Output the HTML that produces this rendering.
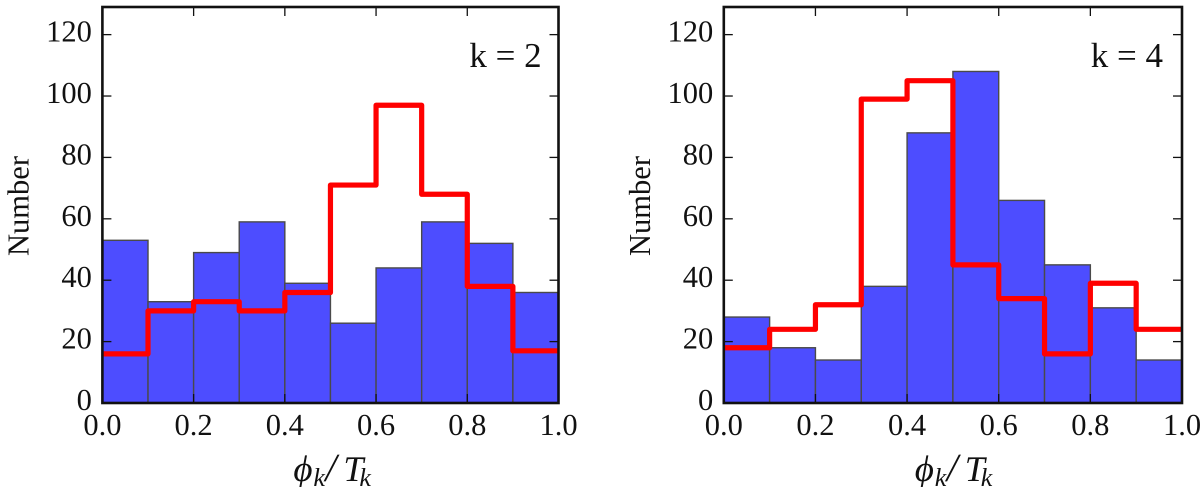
<!DOCTYPE html>
<html>
<head>
<meta charset="utf-8">
<style>
html,body{margin:0;padding:0;background:#fff;}
svg{display:block;}
text{font-family:"Liberation Serif",serif;fill:#111;text-rendering:geometricPrecision;}
</style>
</head>
<body>
<svg id="chart" xmlns="http://www.w3.org/2000/svg" width="1200" height="487" viewBox="0 0 1200 487"></svg>
<script>
const binEdges = [0, 0.1, 0.2, 0.3, 0.4, 0.5, 0.6, 0.7, 0.8, 0.9, 1.0];
const xTickLabels = ["0.0", "0.2", "0.4", "0.6", "0.8", "1.0"];
const yTickLabels = ["0", "20", "40", "60", "80", "100", "120"];
const blueK2 = [53, 33, 49, 59, 39, 26, 44, 59, 52, 36];
const redK2 = [16, 30, 33, 30, 36, 71, 97, 68, 38, 17];
const blueK4 = [28, 18, 14, 38, 88, 108, 66, 45, 31, 14];
const redK4 = [18, 24, 32, 99, 105, 45, 34, 16, 39, 24];
const yMax = 129;

const NS = 'http://www.w3.org/2000/svg';
const root = document.getElementById('chart');

function mk(parent, tag, attrs) {
  const el = document.createElementNS(NS, tag);
  for (const k in attrs) el.setAttribute(k, attrs[k]);
  parent.appendChild(el);
  return el;
}

function drawPanel(prefix, left, right, top, bottom, blue, red, label) {
  const xs = v => left + (v / 1.0) * (right - left);
  const ys = v => bottom - (v / yMax) * (bottom - top);

  const g = mk(root, 'g', {});
  
  

  blue.forEach((v, i) => {
    const b = mk(g, 'rect', {
      x: xs(binEdges[i]), y: ys(v),
      width: xs(binEdges[i + 1]) - xs(binEdges[i]),
      height: ys(0) - ys(v),
      fill: '#4d4dff', stroke: '#4a4a4a', 'stroke-width': 1.4
    });
    
    
  });

  let d = '';
  red.forEach((v, i) => {
    d += (i === 0 ? 'M' : 'L') + xs(binEdges[i]) + ' ' + ys(v) + ' L' + xs(binEdges[i + 1]) + ' ' + ys(v) + ' ';
  });
  const line = mk(g, 'path', {
    d: d, fill: 'none', stroke: '#ff0000', 'stroke-width': 5.2,
    'stroke-linejoin': 'round', 'stroke-linecap': 'butt'
  });
  
  

  xTickLabels.forEach(t => {
    const v = parseFloat(t);
    const tb = mk(g, 'line', { x1: xs(v), x2: xs(v), y1: bottom, y2: bottom - 9, stroke: '#111', 'stroke-width': 1.3 });
    
    
    const tt = mk(g, 'line', { x1: xs(v), x2: xs(v), y1: top, y2: top + 9, stroke: '#111', 'stroke-width': 1.3 });
    
    
    const lbl = mk(g, 'text', { x: xs(v), y: 435, 'text-anchor': 'middle', 'font-size': 30.5 });
    lbl.textContent = t;
    
    
  });

  yTickLabels.forEach(t => {
    const v = parseFloat(t);
    const tl = mk(g, 'line', { x1: left, x2: left + 9, y1: ys(v), y2: ys(v), stroke: '#111', 'stroke-width': 1.3 });
    
    
    const tr = mk(g, 'line', { x1: right, x2: right - 9, y1: ys(v), y2: ys(v), stroke: '#111', 'stroke-width': 1.3 });
    
    
    const lbl = mk(g, 'text', { x: left - 10.5, y: ys(v) + 7, 'text-anchor': 'end', 'font-size': 30.5 });
    lbl.textContent = t;
    
    
  });

  const frame = mk(g, 'rect', {
    x: left, y: top, width: right - left, height: bottom - top,
    fill: 'none', stroke: '#111', 'stroke-width': 2.6
  });
  
  

  const yTitle = mk(g, 'text', {
    transform: 'translate(' + (left - 74) + ' 206) rotate(-90)',
    'text-anchor': 'middle', 'font-size': 30.5
  });
  yTitle.textContent = 'Number';
  
  

  const xTitle = mk(g, 'text', { y: 481, 'font-size': 37, 'font-style': 'italic' });
  const phi = mk(xTitle, 'tspan', { x: left + 191, y: 481 });
  phi.textContent = 'ϕ';
  const s1 = mk(xTitle, 'tspan', { x: left + 211, y: 486, 'font-size': 26 });
  s1.textContent = 'k';
  const s2 = mk(xTitle, 'tspan', { x: left + 223, y: 481, 'font-size': 40 });
  s2.textContent = '/';
  const s3 = mk(xTitle, 'tspan', { x: left + 241, y: 481, 'font-size': 36 });
  s3.textContent = 'T';
  const s4 = mk(xTitle, 'tspan', { x: left + 257, y: 486, 'font-size': 26 });
  s4.textContent = 'k';
  
  

  const ann = mk(g, 'text', { x: left + 367, y: 67, 'font-size': 35 });
  ann.textContent = label;
  
  
}

drawPanel('k2', 102.4, 558.5, 7, 403, blueK2, redK2, 'k = 2');
drawPanel('k4', 723.8, 1182, 7, 403, blueK4, redK4, 'k = 4');
</script>
</body>
</html>
